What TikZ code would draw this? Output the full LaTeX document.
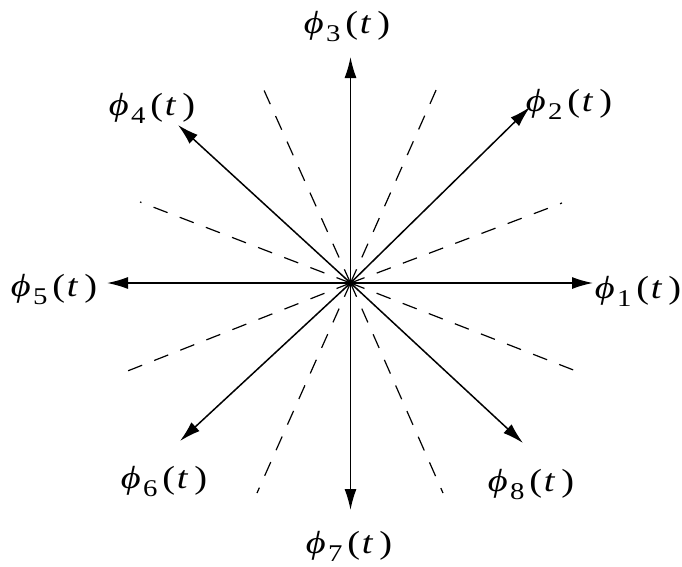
\documentclass[tikz,border=0pt]{standalone}
\usepackage{fontspec}
\setmainfont{Liberation Serif}
\usetikzlibrary{arrows.meta}
\newcommand\philab[1]{\scalebox{1.2}[1]{\textit{ϕ}\hspace{2pt}\raisebox{-0.27em}{\fontsize{24}{24}\selectfont #1}\hspace{4pt}(\hspace{1.5pt}\textit{t}\hspace{5pt})}}
\tikzset{
  vec/.style={line width=1.5pt,-{Latex[length=21pt,width=12pt]}},
  sep/.style={line width=1.2pt,dash pattern=on 15pt off 13pt},
  lab/.style={font=\fontsize{32}{32}\selectfont,inner sep=0pt,anchor=base}
}
\begin{document}
\begin{tikzpicture}[x=1pt,y=-1pt]
\useasboundingbox (0,0) rectangle (682,566);
\coordinate (o) at (350.5,283);
% separating dashed lines
\foreach \p in {(140,202),(576,371),(125,372),(562,203),(263,88),(443,493),(437,88),(257,493)}
  \draw[sep] (o) -- \p;
% arrows
\coordinate (t1) at (593,283);
\coordinate (t2) at (530,107);
\coordinate (t3) at (350.5,57);
\coordinate (t4) at (178,125);
\coordinate (t5) at (107,283);
\coordinate (t6) at (180,441);
\coordinate (t7) at (350.5,510);
\coordinate (t8) at (523,443);
\foreach \i in {1,...,8} \draw[vec] (o) -- (t\i);
% labels
\node[lab] (l1) at (638,298) {\philab{1}};
\node[lab] (l2) at (569,111) {\philab{2}};
\node[lab] (l3) at (347,33) {\philab{3}};
\node[lab] (l4) at (152,115) {\philab{4}};
\node[lab] (l5) at (54,296) {\philab{5}};
\node[lab] (l6) at (164,488) {\philab{6}};
\node[lab] (l7) at (349,553) {\philab{7}};
\node[lab] (l8) at (531,491) {\philab{8}};
\end{tikzpicture}
\end{document}
